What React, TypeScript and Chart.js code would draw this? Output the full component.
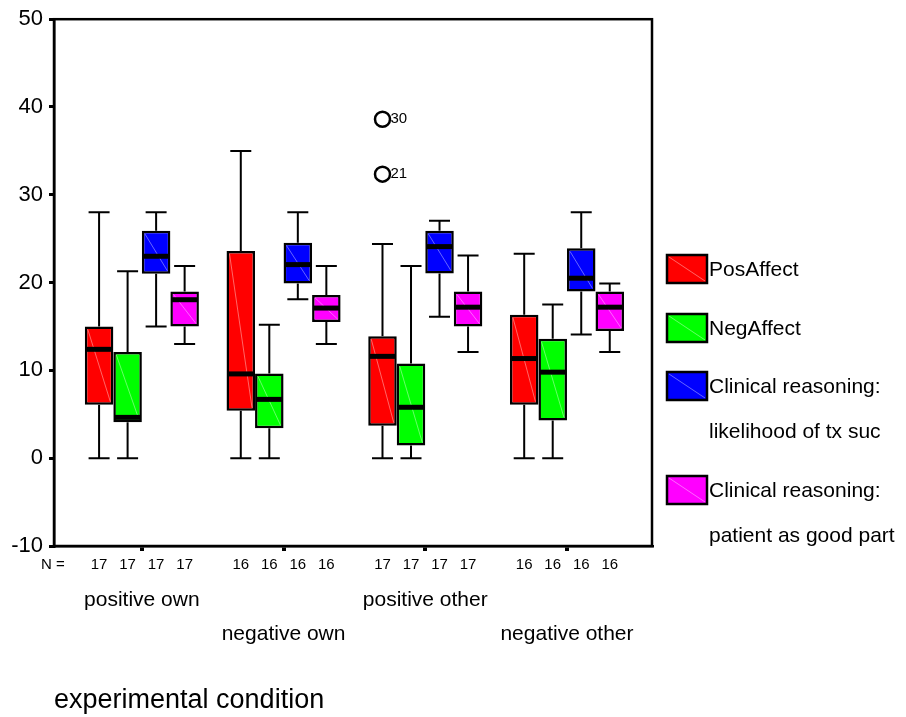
import React, { useEffect, useRef } from 'react';
import { Chart, registerables } from 'chart.js';

Chart.register(...registerables);

// ---------- data ----------
const conditions = ['positive own', 'negative own', 'positive other', 'negative other'];
const seriesNames = ['PosAffect', 'NegAffect', 'Clinical reasoning: likelihood of tx suc', 'Clinical reasoning: patient as good part'];
const legendLines = [['PosAffect'], ['NegAffect'], ['Clinical reasoning:', 'likelihood of tx suc'], ['Clinical reasoning:', 'patient as good part']];
const seriesColors = ['#ff0000', '#00ff00', '#0000ff', '#ff00ff'];
const sampleSizes = [17, 16, 17, 16];

// PosAffect
const posMin = [0, 0, 0, 0];
const posQ1 = [6.1, 5.4, 3.7, 6.1];
const posMedian = [12.4, 9.6, 11.6, 11.35];
const posQ3 = [15.0, 23.6, 13.9, 16.35];
const posMax = [28, 35, 24.4, 23.3];

// NegAffect
const negMin = [0, 0, 0, 0];
const negQ1 = [4.1, 3.4, 1.45, 4.3];
const negMedian = [4.65, 6.7, 5.8, 9.8];
const negQ3 = [12.1, 9.65, 10.8, 13.6];
const negMax = [21.3, 15.2, 21.9, 17.5];

// Clinical reasoning: likelihood of tx suc
const likMin = [15.0, 18.1, 16.1, 14.1];
const likQ1 = [21.0, 19.9, 21.05, 19.0];
const likMedian = [23.0, 22.05, 24.1, 20.5];
const likQ3 = [25.9, 24.55, 25.9, 23.9];
const likMax = [28, 28, 27.05, 28];

// Clinical reasoning: patient as good part
const goodMin = [13.0, 13.0, 12.1, 12.1];
const goodQ1 = [15.0, 15.5, 15.0, 14.5];
const goodMedian = [18.05, 17.1, 17.2, 17.2];
const goodQ3 = [19.0, 18.6, 19.0, 19.0];
const goodMax = [21.9, 21.9, 23.1, 19.9];

// outliers: condition index, series index, value, case id
const outlierCondition = [2, 2];
const outlierSeries = [0, 0];
const outlierValues = [38.6, 32.35];
const outlierIds = ['30', '21'];

const yTicks = [-10, 0, 10, 20, 30, 40, 50];

const stats = [
  { min: posMin, q1: posQ1, med: posMedian, q3: posQ3, max: posMax },
  { min: negMin, q1: negQ1, med: negMedian, q3: negQ3, max: negMax },
  { min: likMin, q1: likQ1, med: likMedian, q3: likQ3, max: likMax },
  { min: goodMin, q1: goodQ1, med: goodMedian, q3: goodQ3, max: goodMax },
];

const FONT = "'Liberation Sans', Arial, Helvetica, sans-serif";

const boxPlugin = {
  id: 'boxExtras',
  afterDatasetsDraw(chart: any) {
    const ctx = chart.ctx as CanvasRenderingContext2D;
    const ys = chart.scales.y;
    const xs = chart.scales.x;
    const area = chart.chartArea;
    ctx.save();
    stats.forEach((st, s) => {
      const meta = chart.getDatasetMeta(s);
      meta.data.forEach((bar: any, c: number) => {
        const p = bar.getProps(['x', 'y', 'base', 'width'], true);
        const left = p.x - p.width / 2;
        const right = p.x + p.width / 2;
        const top = Math.min(p.y, p.base);
        const bottom = Math.max(p.y, p.base);
        // faint diagonal hatch
        ctx.strokeStyle = 'rgba(255,255,255,0.4)';
        ctx.lineWidth = 1;
        ctx.beginPath();
        ctx.moveTo(left + 3, top + 3);
        ctx.lineTo(right - 3, bottom - 3);
        ctx.stroke();
        // whiskers
        const yMax = ys.getPixelForValue(st.max[c]);
        const yMin = ys.getPixelForValue(st.min[c]);
        ctx.strokeStyle = '#000';
        ctx.lineWidth = 2;
        ctx.beginPath();
        ctx.moveTo(p.x, top);
        ctx.lineTo(p.x, yMax);
        ctx.moveTo(p.x - 10.5, yMax);
        ctx.lineTo(p.x + 10.5, yMax);
        ctx.moveTo(p.x, bottom);
        ctx.lineTo(p.x, yMin);
        ctx.moveTo(p.x - 10.5, yMin);
        ctx.lineTo(p.x + 10.5, yMin);
        ctx.stroke();
        // median band
        const yMed = ys.getPixelForValue(st.med[c]);
        ctx.lineWidth = 5;
        ctx.beginPath();
        ctx.moveTo(left + 1, yMed);
        ctx.lineTo(right - 1, yMed);
        ctx.stroke();
        // N labels
        ctx.fillStyle = '#000';
        ctx.font = `15px ${FONT}`;
        ctx.textAlign = 'center';
        ctx.textBaseline = 'middle';
        ctx.fillText(String(sampleSizes[c]), p.x, 565);
      });
    });
    // outliers
    outlierValues.forEach((v, i) => {
      const bar: any = chart.getDatasetMeta(outlierSeries[i]).data[outlierCondition[i]];
      const px = bar.x;
      const py = ys.getPixelForValue(v);
      ctx.strokeStyle = '#000';
      ctx.lineWidth = 2.5;
      ctx.beginPath();
      ctx.arc(px, py, 7.5, 0, Math.PI * 2);
      ctx.stroke();
      ctx.fillStyle = '#000';
      ctx.font = `15px ${FONT}`;
      ctx.textAlign = 'left';
      ctx.textBaseline = 'middle';
      ctx.fillText(outlierIds[i], px + 8, py);
    });
    // plot frame
    ctx.strokeStyle = '#000';
    ctx.lineWidth = 2.5;
    ctx.strokeRect(area.left, area.top, area.right - area.left, area.bottom - area.top);
    // N = label
    ctx.fillStyle = '#000';
    ctx.font = `15px ${FONT}`;
    ctx.textAlign = 'left';
    ctx.textBaseline = 'middle';
    ctx.fillText('N =', 41, 565);
    // staggered category labels
    ctx.font = `21px ${FONT}`;
    ctx.textAlign = 'center';
    conditions.forEach((name, c) => {
      ctx.fillText(name, xs.getPixelForValue(c), c % 2 === 0 ? 600 : 634);
    });
    // legend
    const legendCenters = [269, 328, 386, 490];
    legendLines.forEach((lines, s) => {
      const cy = legendCenters[s];
      const bx = 667, bw = 40, bh = 28;
      ctx.fillStyle = seriesColors[s];
      ctx.fillRect(bx, cy - bh / 2, bw, bh);
      ctx.strokeStyle = 'rgba(255,255,255,0.4)';
      ctx.lineWidth = 1;
      ctx.beginPath();
      ctx.moveTo(bx + 2, cy - bh / 2 + 2);
      ctx.lineTo(bx + bw - 2, cy + bh / 2 - 2);
      ctx.stroke();
      ctx.strokeStyle = '#000';
      ctx.lineWidth = 2.5;
      ctx.strokeRect(bx, cy - bh / 2, bw, bh);
      ctx.fillStyle = '#000';
      ctx.font = `21px ${FONT}`;
      ctx.textAlign = 'left';
      ctx.textBaseline = 'middle';
      lines.forEach((ln, k) => ctx.fillText(ln, 709, cy + 1 + k * 45));
    });
    ctx.restore();
  },
};

export default function App() {
  const ref = useRef<HTMLCanvasElement>(null);
  useEffect(() => {
    const canvas = ref.current!;
    Chart.defaults.font.family = FONT;
    Chart.defaults.color = '#000';
    const chart = new Chart(canvas, {
      type: 'bar',
      data: {
        datasets: stats.map((st, s) => ({
          label: seriesNames[s],
          data: conditions.map((_, c) => ({ x: c, y: [st.q1[c], st.q3[c]] })),
          backgroundColor: seriesColors[s],
          borderColor: '#000',
          borderWidth: 2.5,
          borderSkipped: false,
          categoryPercentage: 0.805,
          barPercentage: 1,
        })),
      } as any,
      options: {
        animation: false,
        responsive: false,
        devicePixelRatio: 1,
        layout: { padding: { top: 17, right: 254, left: 0, bottom: 0 } },
        plugins: { legend: { display: false }, tooltip: { enabled: false } },
        scales: {
          x: {
            type: 'linear',
            min: -0.62,
            max: 3.6,
            offset: false,
            afterBuildTicks: (scale: any) => {
              scale.ticks = conditions.map((_, i) => ({ value: i }));
            },
            ticks: { display: false },
            grid: { drawOnChartArea: false, drawTicks: true, tickLength: 5, lineWidth: 4, color: '#000', offset: false },
            border: { display: true, color: '#000', width: 2.5 },
            title: {
              display: true,
              text: 'experimental condition',
              align: 'start',
              color: '#000',
              font: { size: 27, family: FONT },
              padding: 0,
            },
            afterFit: (scale: any) => {
              scale.height = 171;
            },
          },
          y: {
            type: 'linear',
            min: -10,
            max: 50,
            afterBuildTicks: (scale: any) => {
              scale.ticks = yTicks.map((v) => ({ value: v }));
            },
            ticks: { color: '#000', font: { size: 22, family: FONT }, padding: 6 },
            grid: { drawOnChartArea: false, drawTicks: true, tickLength: 5, lineWidth: 3, color: '#000' },
            border: { display: true, color: '#000', width: 2.5 },
            afterFit: (scale: any) => {
              scale.width = 54;
            },
          },
        },
      } as any,
      plugins: [boxPlugin],
    });
    return () => chart.destroy();
  }, []);
  return (
    <div style={{ position: 'absolute', left: 0, top: 0, width: 906, height: 717, background: '#fff' }}>
      <canvas ref={ref} width={906} height={717} style={{ display: 'block', width: 906, height: 717 }} />
    </div>
  );
}
